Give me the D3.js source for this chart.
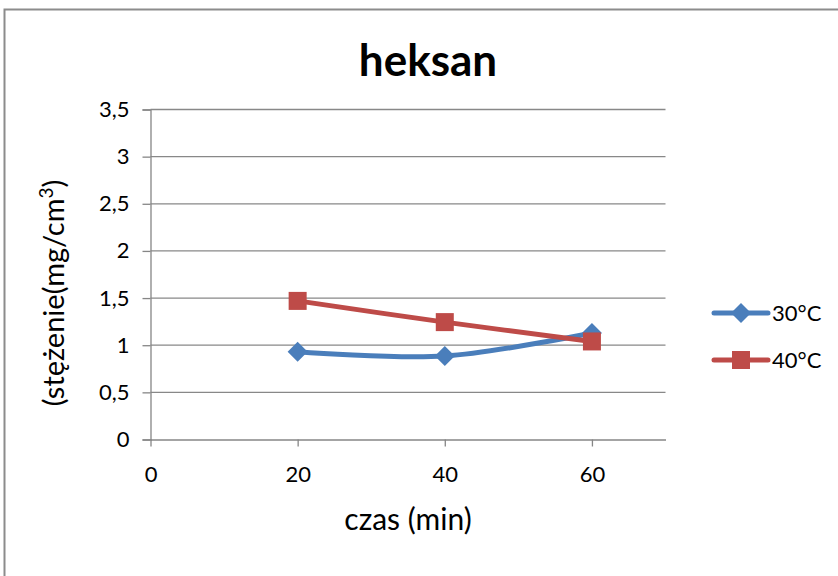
<!DOCTYPE html>
<html><head><meta charset="utf-8">
<script src="https://cdn.jsdelivr.net/npm/d3@7"></script>
<style>body{margin:0;background:#fff}svg{display:block}text{font-family:Lato,"Open Sans",sans-serif;fill:#000}</style>
</head><body><svg id="c" width="838" height="576"></svg>
<script>
const xValues = [20, 40, 60];
const series30 = [0.93, 0.885, 1.13];
const series40 = [1.47, 1.245, 1.04];
const seriesNames = ["30°C", "40°C"];
const seriesColors = ["#4A7EBB", "#BE4B48"];
const xTicks = [0, 20, 40, 60];
const yTicks = [0, 0.5, 1, 1.5, 2, 2.5, 3, 3.5];
const title = "heksan";
const xTitle = "czas (min)";

const svg = d3.select("#c");
svg.append("rect").attr("x",4.5).attr("y",9.5).attr("width",900).attr("height",700)
  .attr("fill","none").attr("stroke","#8c8c8c").attr("stroke-width",2);

const x = d3.scaleLinear().domain([0,70]).range([150.5,665.5]);
const y = d3.scaleLinear().domain([0,3.5]).range([439.5,109.5]);
const fmt = d => String(d).replace(".", ",");
const FF = "Lato,'Open Sans',sans-serif";

// grid
svg.append("g").selectAll("line").data(yTicks.slice(1)).join("line")
  .attr("x1",x(0)).attr("x2",x(70)).attr("y1",d=>y(d)).attr("y2",d=>y(d))
  .attr("stroke","#888").attr("stroke-width",1.3);

// y axis
const ya = svg.append("g").attr("transform",`translate(${x(0)},0)`)
  .call(d3.axisLeft(y).tickValues(yTicks).tickFormat(fmt).tickSize(8).tickPadding(13));
ya.attr("font-size",22).attr("font-family",FF);
ya.select(".domain").attr("stroke","#868686").attr("stroke-width",1.3);
ya.selectAll(".tick line").attr("stroke","#868686").attr("stroke-width",1.3);
ya.selectAll(".tick text").attr("font-size",22).attr("fill","#000");

// x axis
const xa = svg.append("g").attr("transform",`translate(0,${y(0)})`)
  .call(d3.axisBottom(x).tickValues(xTicks).tickSize(7).tickPadding(20).tickSizeOuter(0));
xa.attr("font-size",22).attr("font-family",FF);
xa.select(".domain").attr("stroke","#868686").attr("stroke-width",1.3);
xa.selectAll(".tick line").attr("stroke","#868686").attr("stroke-width",1.3);
xa.selectAll(".tick text").attr("font-size",22).attr("fill","#000");

// lines
const data = [series30, series40];
const line = d3.line().x((d,i)=>x(xValues[i])).y(d=>y(d)).curve(d3.curveCardinal.tension(0));
data.forEach((s,k)=>{
  svg.append("path").attr("d",line(s)).attr("fill","none")
    .attr("stroke",seriesColors[k]).attr("stroke-width",5).attr("stroke-linecap","round");
});
data.forEach((s,k)=>{
  const g = svg.append("g");
  s.forEach((v,i)=>{
    if(k===0){
      g.append("path").attr("d",d3.symbol().type(d3.symbolSquare).size(200)())
        .attr("transform",`translate(${x(xValues[i])},${y(v)}) rotate(45)`).attr("fill",seriesColors[k]);
    } else {
      g.append("rect").attr("x",x(xValues[i])-9).attr("y",y(v)-9).attr("width",18).attr("height",18)
        .attr("fill",seriesColors[k]);
    }
  });
});

// legend
seriesNames.forEach((n,k)=>{
  const ly = 313 + k*47;
  svg.append("line").attr("x1",714).attr("x2",768).attr("y1",ly).attr("y2",ly)
    .attr("stroke",seriesColors[k]).attr("stroke-width",5).attr("stroke-linecap","round");
  if(k===0){
    svg.append("path").attr("d",d3.symbol().type(d3.symbolSquare).size(200)())
      .attr("transform",`translate(741,${ly}) rotate(45)`).attr("fill",seriesColors[k]);
  } else {
    svg.append("rect").attr("x",732).attr("y",ly-9).attr("width",18).attr("height",18).attr("fill",seriesColors[k]);
  }
  svg.append("text").attr("x",772).attr("y",ly+8).attr("font-size",22).text(n);
});

// titles
svg.append("text").attr("x",428).attr("y",76).attr("text-anchor","middle")
  .attr("font-size",44).attr("font-weight","bold").text(title);
svg.append("text").attr("x",408).attr("y",530).attr("text-anchor","middle")
  .attr("font-size",30).text(xTitle);
const yt = svg.append("text").attr("transform","translate(64,293) rotate(-90)")
  .attr("text-anchor","middle").attr("font-size",29);
yt.append("tspan").text("(stężenie(mg/cm");
yt.append("tspan").attr("font-size",19).attr("dy",-11).text("3");
yt.append("tspan").attr("dy",11).text(")");
</script></body></html>
